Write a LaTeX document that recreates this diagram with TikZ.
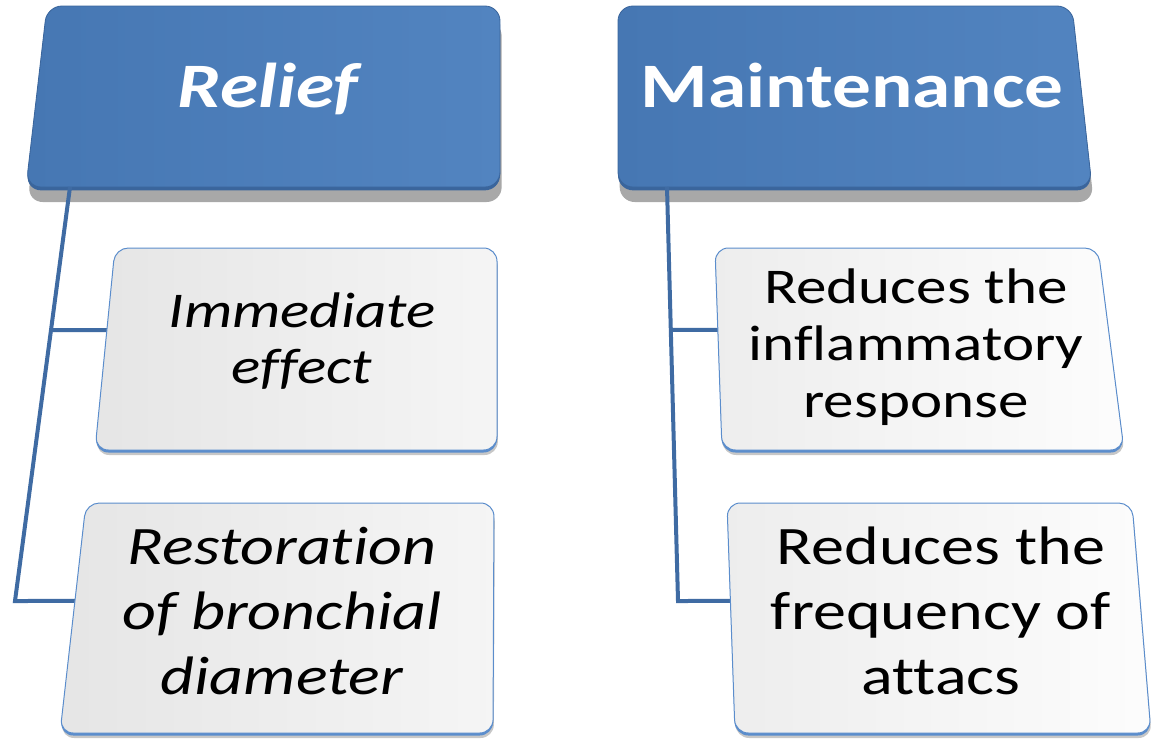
\documentclass[tikz,border=0pt]{standalone}
\usepackage{fontspec}
\setmainfont{Carlito}[FakeStretch=1.22,Ligatures=NoCommon]
\usetikzlibrary{shadows}

\definecolor{hdrleft}{HTML}{4677B3}
\definecolor{hdrright}{HTML}{5284C0}
\definecolor{hdrdark}{HTML}{3A659C}
\definecolor{linkblue}{HTML}{3F6BA3}
\definecolor{rimblue}{HTML}{5B8DCC}

\begin{document}
\begin{tikzpicture}[x=0.6pt,y=-0.6pt,
    hdrbox/.style={rounded corners=9pt,left color=hdrleft,right color=hdrright,
      draw=hdrdark,line width=0.5pt,
      drop shadow={shadow xshift=1pt,shadow yshift=-9pt,fill=black!34,opacity=1},
      preaction={fill=hdrdark,transform canvas={yshift=-2pt}}},
    leafbox/.style={rounded corners=8pt,left color=black!10,right color=black!4,
      draw=rimblue,line width=0.6pt,
      drop shadow={shadow xshift=0.5pt,shadow yshift=-3pt,fill=black!22,opacity=1},
      preaction={fill=rimblue,transform canvas={yshift=-1.5pt}}},
    link/.style={draw=linkblue,line width=2.4pt},
    hdrtext/.style={text=white,anchor=base,inner sep=0pt},
    leaftext/.style={align=center,inner sep=0pt}]

  \useasboundingbox (0,0) rectangle (1153,738);

  % corners of the slanted boxes
  \coordinate (lh-tl) at (47,6);    \coordinate (lh-tr) at (500,6);
  \coordinate (lh-br) at (500,187); \coordinate (lh-bl) at (26,187);
  \coordinate (rh-tl) at (618,6);   \coordinate (rh-tr) at (1072,6);
  \coordinate (rh-br) at (1092,187);\coordinate (rh-bl) at (618,187);
  \coordinate (l1-tl) at (115,248); \coordinate (l1-tr) at (497,248);
  \coordinate (l1-br) at (497,450); \coordinate (l1-bl) at (95,450);
  \coordinate (l2-tl) at (86,503);  \coordinate (l2-tr) at (494,503);
  \coordinate (l2-br) at (493,733); \coordinate (l2-bl) at (60,733);
  \coordinate (r1-tl) at (715,248); \coordinate (r1-tr) at (1098,248);
  \coordinate (r1-br) at (1124,450);\coordinate (r1-bl) at (722,450);
  \coordinate (r2-tl) at (727,503); \coordinate (r2-tr) at (1132,503);
  \coordinate (r2-br) at (1151,733);\coordinate (r2-bl) at (735,733);

  \path[hdrbox] (300,6) -- (lh-tr) -- (lh-br) -- (lh-bl) -- (lh-tl) -- cycle;
  \path[hdrbox] (850,6) -- (rh-tr) -- (rh-br) -- (rh-bl) -- (rh-tl) -- cycle;

  % connectors
  \coordinate (relief-foot) at (70,187);
  \coordinate (relief-knee) at (15,601);
  \coordinate (relief-mid) at (intersection of relief-foot--relief-knee and 0,330--200,330);
  \coordinate (maint-foot) at (667,187);
  \coordinate (maint-knee) at (678,601);
  \coordinate (maint-mid) at (intersection of maint-foot--maint-knee and 600,330--800,330);

  \draw[link] (relief-foot) -- (relief-knee)
    -- (intersection of relief-knee--200,601 and l2-tl--l2-bl);
  \draw[link] (relief-mid) -- (intersection of relief-mid--200,330 and l1-tl--l1-bl);
  \draw[link] (maint-foot) -- (maint-knee)
    -- (intersection of maint-knee--800,601 and r2-tl--r2-bl);
  \draw[link] (maint-mid) -- (intersection of maint-mid--800,330 and r1-tl--r1-bl);

  \path[leafbox] (300,248) -- (l1-tr) -- (l1-br) -- (l1-bl) -- (l1-tl) -- cycle;
  \path[leafbox] (300,503) -- (l2-tr) -- (l2-br) -- (l2-bl) -- (l2-tl) -- cycle;
  \path[leafbox,left color=black!7,right color=black!1]
    (900,248) -- (r1-tr) -- (r1-br) -- (r1-bl) -- (r1-tl) -- cycle;
  \path[leafbox,left color=black!7,right color=black!1]
    (900,503) -- (r2-tr) -- (r2-br) -- (r2-bl) -- (r2-tl) -- cycle;

  \node[hdrtext,font=\fontsize{38}{44}\selectfont\bfseries\itshape] (relief) at (268,107) {Relief};
  \node[hdrtext,font=\fontsize{38}{44}\selectfont\bfseries] (maint) at (852,107) {Maintenance};

  \node[leaftext,font=\fontsize{30}{34}\selectfont\itshape] (immed) at (302,341) {Immediate\\effect};
  \node[leaftext,font=\fontsize{32.5}{39}\selectfont\itshape] (restor) at (282,611) {Restoration\\of bronchial\\diameter};
  \node[leaftext,font=\fontsize{30}{34}\selectfont] (inflam) at (916,347) {Reduces the\\inflammatory\\response};
  \node[leaftext,font=\fontsize{32.5}{39}\selectfont] (freq) at (941,611) {Reduces the\\frequency of\\attacs};

\end{tikzpicture}
\end{document}
